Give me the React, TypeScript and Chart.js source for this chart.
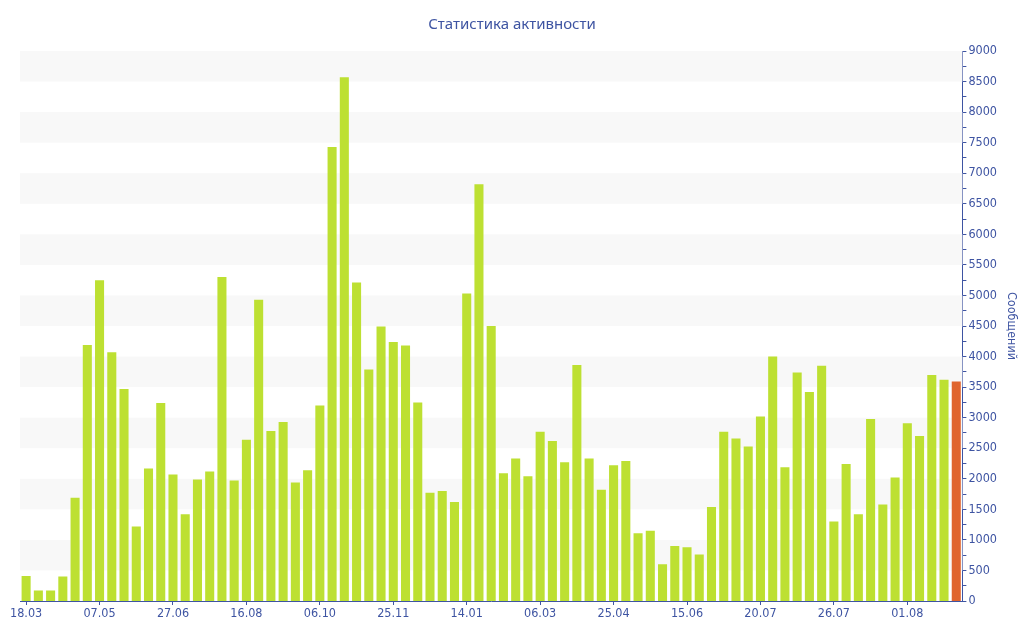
import { useEffect, useRef } from 'react';
import { Chart, registerables } from 'chart.js';

Chart.register(...registerables);

// one label every 6th bar, the rest stay empty
const tickLabels = [
  '18.03', '07.05', '27.06', '16.08', '06.10', '25.11', '14.01',
  '06.03', '25.04', '15.06', '20.07', '26.07', '01.08',
];
const TICK_EVERY = 6;

const messages = [
  410, 170, 170, 400, 1690, 4190, 5250, 4070, 3470, 1220,
  2170, 3240, 2070, 1420, 1990, 2120, 5300, 1970, 2640, 4930,
  2780, 2930, 1940, 2140, 3200, 7430, 8570, 5210, 3790, 4490,
  4240, 4180, 3250, 1770, 1800, 1620, 5030, 6820, 4500, 2090,
  2330, 2040, 2770, 2620, 2270, 3860, 2330, 1820, 2220, 2290,
  1110, 1150, 600, 900, 880, 760, 1540, 2770, 2660, 2530,
  3020, 4000, 2190, 3740, 3420, 3850, 1300, 2240, 1420, 2980,
  1580, 2020, 2910, 2700, 3700, 3620, 3590,
];

const categories = messages.map((_, i) =>
  i % TICK_EVERY === 0 ? tickLabels[i / TICK_EVERY] ?? '' : ''
);

const BLUE = '#3e54a2';
const GREEN = '#bde032';
const ORANGE = '#e0642e';
const BAND = '#f8f8f8';
const FONT = '"DejaVu Sans Condensed", "DejaVu Sans", sans-serif';

const bandsPlugin = {
  id: 'bands',
  beforeDatasetsDraw(chart: Chart) {
    const { ctx, chartArea, scales } = chart;
    const y = scales.y;
    ctx.save();
    ctx.fillStyle = BAND;
    for (let v = 500; v < (y.max as number); v += 1000) {
      const top = y.getPixelForValue(v + 500);
      const bottom = y.getPixelForValue(v);
      ctx.fillRect(chartArea.left, top, chartArea.right - chartArea.left, bottom - top);
    }
    ctx.restore();
  },
};

export default function App() {
  const canvasRef = useRef<HTMLCanvasElement>(null);

  useEffect(() => {
    if (!canvasRef.current) return;
    const last = messages.length - 1;

    const chart = new Chart(canvasRef.current, {
      type: 'bar',
      data: {
        labels: categories,
        datasets: [
          {
            label: 'Сообщений',
            data: messages,
            backgroundColor: messages.map((_, i) => (i === last ? ORANGE : GREEN)),
            borderWidth: 0,
            barPercentage: 0.74,
            categoryPercentage: 1,
          },
        ],
      },
      options: {
        animation: false,
        responsive: true,
        maintainAspectRatio: false,
        layout: { padding: { left: 0, right: 0, bottom: 18, top: 0 } },
        plugins: {
          legend: { display: false },
          tooltip: { enabled: false },
          title: {
            display: true,
            text: 'Статистика активности',
            color: BLUE,
            font: { family: 'Noto Sans, sans-serif', size: 15, weight: 'normal' },
            padding: { top: 16, bottom: 17 },
          },
        },
        scales: {
          x: {
            offset: true,
            grid: {
              offset: false,
              drawOnChartArea: false,
              tickLength: 4,
              color: (ctx) => (ctx.index % TICK_EVERY === 0 ? BLUE : 'rgba(0,0,0,0)'),
            },
            border: { color: BLUE },
            ticks: {
              autoSkip: false,
              maxRotation: 0,
              padding: 1,
              color: BLUE,
              font: { family: FONT, size: 12.5 },
            },
          },
          // empty left gutter so the title stays centred on the whole canvas
          gutter: {
            type: 'linear',
            position: 'left',
            display: true,
            grid: { display: false },
            border: { display: false },
            ticks: { display: false },
            afterFit: (scale) => {
              scale.width = 20;
            },
          },
          y: {
            position: 'right',
            min: 0,
            max: 9000,
            grid: { drawOnChartArea: false, tickLength: 4, color: BLUE },
            border: { color: BLUE },
            ticks: {
              stepSize: 250,
              autoSkip: false,
              padding: 2,
              color: BLUE,
              font: { family: FONT, size: 12.5 },
              callback: (v) => (Number(v) % 500 === 0 ? String(v) : ''),
            },
            title: {
              display: true,
              text: 'Сообщений',
              color: BLUE,
              font: { family: FONT, size: 12.5 },
              padding: { top: 5, bottom: 5 },
            },
          },
        },
      },
      plugins: [bandsPlugin],
    });

    return () => chart.destroy();
  }, []);

  return (
    <div style={{ position: 'fixed', left: 0, top: 0, width: 1024, height: 640, background: '#fff' }}>
      <canvas ref={canvasRef} role="img" aria-label="Статистика активности" />
    </div>
  );
}
